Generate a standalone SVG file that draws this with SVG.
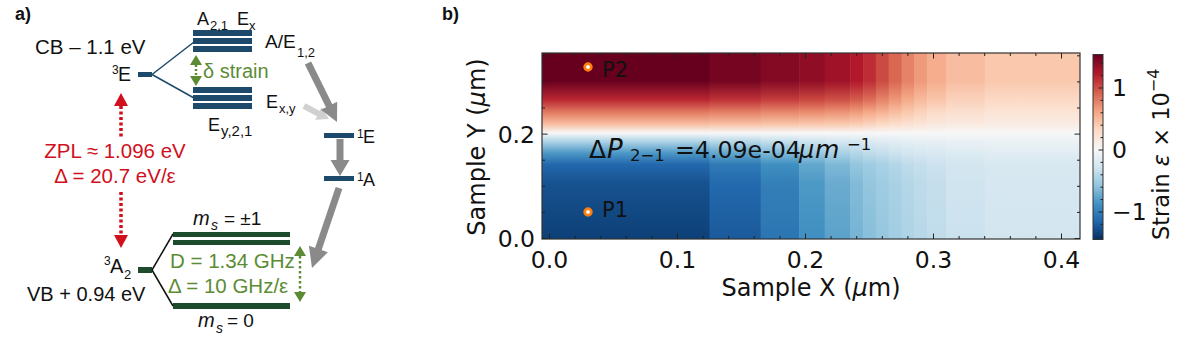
<svg xmlns="http://www.w3.org/2000/svg" width="1200" height="359" viewBox="0 0 1200 359">
<style>
.ta{font-family:"Liberation Sans",Arial,sans-serif;fill:#111}
.tb{font-family:"DejaVu Sans",sans-serif;fill:#111}
.gt{fill:#5b8c34}
.rt{fill:#d0101c}
.navy{fill:#1d4a6b}
.dgr{fill:#1c4c2b}
.gar{fill:#8a8a8a}
.tick{stroke:#222;stroke-width:1;fill:none}
</style>
<defs>
<linearGradient id="c1" x1="0" y1="0" x2="0" y2="1"><stop offset="0" stop-color="#67001f"/><stop offset=".15" stop-color="#67001f"/><stop offset=".25" stop-color="#b92631"/><stop offset=".32" stop-color="#e27c62"/><stop offset=".38" stop-color="#f7bb9d"/><stop offset=".43" stop-color="#f7f7f7"/><stop offset=".47" stop-color="#b7d8e9"/><stop offset=".54" stop-color="#4a96c5"/><stop offset=".6" stop-color="#2368ad"/><stop offset=".7" stop-color="#175290"/><stop offset="1" stop-color="#0d4077"/></linearGradient>
<linearGradient id="c2" x1="0" y1="0" x2="0" y2="1"><stop offset="0" stop-color="#750521"/><stop offset=".15" stop-color="#750521"/><stop offset=".25" stop-color="#be3137"/><stop offset=".32" stop-color="#e58267"/><stop offset=".38" stop-color="#f8bea2"/><stop offset=".43" stop-color="#f7f7f7"/><stop offset=".47" stop-color="#c0dcea"/><stop offset=".54" stop-color="#60a5cc"/><stop offset=".6" stop-color="#2f7ab5"/><stop offset=".7" stop-color="#236aae"/><stop offset="1" stop-color="#1b5a9b"/></linearGradient>
<linearGradient id="c3" x1="0" y1="0" x2="0" y2="1"><stop offset="0" stop-color="#840a24"/><stop offset=".15" stop-color="#840a24"/><stop offset=".25" stop-color="#c43c3c"/><stop offset=".32" stop-color="#e88a6d"/><stop offset=".38" stop-color="#f8c2a6"/><stop offset=".43" stop-color="#f7f7f7"/><stop offset=".47" stop-color="#cbe2ee"/><stop offset=".54" stop-color="#7cb7d6"/><stop offset=".6" stop-color="#3f8fc0"/><stop offset=".7" stop-color="#347fb8"/><stop offset="1" stop-color="#2c75b3"/></linearGradient>
<linearGradient id="c4" x1="0" y1="0" x2="0" y2="1"><stop offset="0" stop-color="#900d26"/><stop offset=".15" stop-color="#900d26"/><stop offset=".25" stop-color="#c9463f"/><stop offset=".32" stop-color="#eb8e71"/><stop offset=".38" stop-color="#f9c5aa"/><stop offset=".43" stop-color="#f7f7f7"/><stop offset=".47" stop-color="#d3e6f0"/><stop offset=".54" stop-color="#98c8e0"/><stop offset=".6" stop-color="#63a7cd"/><stop offset=".7" stop-color="#4d99c6"/><stop offset="1" stop-color="#3f8fc0"/></linearGradient>
<linearGradient id="c5" x1="0" y1="0" x2="0" y2="1"><stop offset="0" stop-color="#9f1228"/><stop offset=".15" stop-color="#9f1228"/><stop offset=".25" stop-color="#ce5045"/><stop offset=".32" stop-color="#ed9577"/><stop offset=".38" stop-color="#f9c8ad"/><stop offset=".43" stop-color="#f7f7f7"/><stop offset=".47" stop-color="#d8e8f1"/><stop offset=".54" stop-color="#a7d0e4"/><stop offset=".6" stop-color="#7eb8d7"/><stop offset=".7" stop-color="#6babd0"/><stop offset="1" stop-color="#5ba2ca"/></linearGradient>
<linearGradient id="c6" x1="0" y1="0" x2="0" y2="1"><stop offset="0" stop-color="#b2182b"/><stop offset=".15" stop-color="#b2182b"/><stop offset=".25" stop-color="#d45c4b"/><stop offset=".32" stop-color="#f19e7d"/><stop offset=".38" stop-color="#facbb2"/><stop offset=".43" stop-color="#f7f7f7"/><stop offset=".47" stop-color="#dbeaf2"/><stop offset=".54" stop-color="#b3d6e8"/><stop offset=".6" stop-color="#94c6de"/><stop offset=".7" stop-color="#82bbd8"/><stop offset="1" stop-color="#76b3d4"/></linearGradient>
<linearGradient id="c7" x1="0" y1="0" x2="0" y2="1"><stop offset="0" stop-color="#bd2d36"/><stop offset=".15" stop-color="#bd2d36"/><stop offset=".25" stop-color="#dc6d57"/><stop offset=".32" stop-color="#f5aa88"/><stop offset=".38" stop-color="#fad1bb"/><stop offset=".43" stop-color="#f7f7f7"/><stop offset=".47" stop-color="#dfebf2"/><stop offset=".54" stop-color="#bedbea"/><stop offset=".6" stop-color="#9fcce2"/><stop offset=".7" stop-color="#94c6de"/><stop offset="1" stop-color="#88bfda"/></linearGradient>
<linearGradient id="c8" x1="0" y1="0" x2="0" y2="1"><stop offset="0" stop-color="#cb4b42"/><stop offset=".15" stop-color="#cb4b42"/><stop offset=".25" stop-color="#e58267"/><stop offset=".32" stop-color="#f6b495"/><stop offset=".38" stop-color="#fcd8c3"/><stop offset=".43" stop-color="#f7f7f7"/><stop offset=".47" stop-color="#e1ecf3"/><stop offset=".54" stop-color="#c4deec"/><stop offset=".6" stop-color="#a9d1e5"/><stop offset=".7" stop-color="#9fcce2"/><stop offset="1" stop-color="#96c7df"/></linearGradient>
<linearGradient id="c9" x1="0" y1="0" x2="0" y2="1"><stop offset="0" stop-color="#d96752"/><stop offset=".15" stop-color="#d96752"/><stop offset=".25" stop-color="#ee9778"/><stop offset=".32" stop-color="#f8bfa3"/><stop offset=".38" stop-color="#fcddca"/><stop offset=".43" stop-color="#f7f7f7"/><stop offset=".47" stop-color="#e3eef3"/><stop offset=".54" stop-color="#cce2ee"/><stop offset=".6" stop-color="#b3d6e8"/><stop offset=".7" stop-color="#a9d1e5"/><stop offset="1" stop-color="#a2cde2"/></linearGradient>
<linearGradient id="c10" x1="0" y1="0" x2="0" y2="1"><stop offset="0" stop-color="#e58267"/><stop offset=".15" stop-color="#e58267"/><stop offset=".25" stop-color="#f5aa88"/><stop offset=".32" stop-color="#f9caaf"/><stop offset=".38" stop-color="#fbe0d0"/><stop offset=".43" stop-color="#f7f7f7"/><stop offset=".47" stop-color="#e5eff4"/><stop offset=".54" stop-color="#d3e6f0"/><stop offset=".6" stop-color="#bfdbea"/><stop offset=".7" stop-color="#b4d7e8"/><stop offset="1" stop-color="#aed3e6"/></linearGradient>
<linearGradient id="c11" x1="0" y1="0" x2="0" y2="1"><stop offset="0" stop-color="#ef9a7a"/><stop offset=".15" stop-color="#ef9a7a"/><stop offset=".25" stop-color="#f7b99c"/><stop offset=".32" stop-color="#fad4bd"/><stop offset=".38" stop-color="#fbe4d6"/><stop offset=".43" stop-color="#f7f7f7"/><stop offset=".47" stop-color="#e7f0f4"/><stop offset=".54" stop-color="#d6e7f1"/><stop offset=".6" stop-color="#c5deec"/><stop offset=".7" stop-color="#bedbea"/><stop offset="1" stop-color="#b7d8e9"/></linearGradient>
<linearGradient id="c12" x1="0" y1="0" x2="0" y2="1"><stop offset="0" stop-color="#f5ad8d"/><stop offset=".15" stop-color="#f5ad8d"/><stop offset=".25" stop-color="#f9c5aa"/><stop offset=".32" stop-color="#fcdcc9"/><stop offset=".38" stop-color="#fae7dc"/><stop offset=".43" stop-color="#f7f7f7"/><stop offset=".47" stop-color="#e9f0f4"/><stop offset=".54" stop-color="#d8e8f1"/><stop offset=".6" stop-color="#cde2ef"/><stop offset=".7" stop-color="#c5deec"/><stop offset="1" stop-color="#c0dcea"/></linearGradient>
<linearGradient id="c13" x1="0" y1="0" x2="0" y2="1"><stop offset="0" stop-color="#f8bda1"/><stop offset=".15" stop-color="#f8bda1"/><stop offset=".25" stop-color="#fad1bb"/><stop offset=".32" stop-color="#fbe0d0"/><stop offset=".38" stop-color="#fae9df"/><stop offset=".43" stop-color="#f7f7f7"/><stop offset=".47" stop-color="#ebf1f5"/><stop offset=".54" stop-color="#dcebf2"/><stop offset=".6" stop-color="#d4e6f0"/><stop offset=".7" stop-color="#d0e4ef"/><stop offset="1" stop-color="#cbe2ee"/></linearGradient>
<linearGradient id="c14" x1="0" y1="0" x2="0" y2="1"><stop offset="0" stop-color="#f9c8ad"/><stop offset=".15" stop-color="#f9c8ad"/><stop offset=".25" stop-color="#fcd9c5"/><stop offset=".32" stop-color="#fbe4d6"/><stop offset=".38" stop-color="#f9ebe3"/><stop offset=".43" stop-color="#f7f7f7"/><stop offset=".47" stop-color="#ecf2f5"/><stop offset=".54" stop-color="#e1ecf3"/><stop offset=".6" stop-color="#d8e8f1"/><stop offset=".7" stop-color="#d6e7f1"/><stop offset="1" stop-color="#d3e6f0"/></linearGradient>
<linearGradient id="cbar" x1="0" y1="0" x2="0" y2="1"><stop offset="0" stop-color="#67001f"/><stop offset=".103" stop-color="#b2182b"/><stop offset=".206" stop-color="#d6604d"/><stop offset=".308" stop-color="#f4a582"/><stop offset=".411" stop-color="#fddbc7"/><stop offset=".514" stop-color="#f7f7f7"/><stop offset=".611" stop-color="#d1e5f0"/><stop offset=".708" stop-color="#92c5de"/><stop offset=".806" stop-color="#4393c3"/><stop offset=".903" stop-color="#2166ac"/><stop offset="1" stop-color="#053061"/></linearGradient>
</defs>
<rect width="1200" height="359" fill="#fff"/>

<!-- Panel a -->
<text class="ta" x="15" y="20" font-size="18" font-weight="bold">a)</text>

<g id="level-3E">
<text class="ta" x="35" y="54" font-size="20.5">CB – 1.1 eV</text>
<text class="ta" x="112" y="74" font-size="12">3</text>
<text class="ta" x="118" y="81" font-size="19.5">E</text>
<rect class="navy" x="138" y="72" width="14" height="5"/>
</g>

<g id="upper-stack">
<rect class="navy" x="193" y="30" width="59" height="6"/>
<rect class="navy" x="193" y="38" width="59" height="6"/>
<rect class="navy" x="193" y="46" width="59" height="6"/>
<text class="ta" x="197" y="25" font-size="18">A</text>
<text class="ta" x="210" y="30" font-size="13">2,1</text>
<text class="ta" x="237" y="25" font-size="18">E</text>
<text class="ta" x="249" y="30" font-size="13">x</text>
<text class="ta" x="265" y="48" font-size="19">A/E</text>
<text class="ta" x="297" y="57" font-size="13">1,2</text>
</g>

<g id="lower-stack">
<rect class="navy" x="193" y="87" width="59" height="6"/>
<rect class="navy" x="193" y="95" width="59" height="6"/>
<rect class="navy" x="193" y="103" width="59" height="6"/>
<text class="ta" x="208" y="131" font-size="18">E</text>
<text class="ta" x="221" y="136" font-size="15">y,2,1</text>
<text class="ta" x="266" y="108" font-size="18">E</text>
<text class="ta" x="279" y="113" font-size="13">x,y</text>
</g>

<g id="strain-split">
<polygon points="196,55 190,65 202,65" fill="#5b8c34"/>
<line x1="196" y1="65" x2="196" y2="76" stroke="#5b8c34" stroke-width="2.5" stroke-dasharray="2 2"/>
<polygon points="196,86 190,76 202,76" fill="#5b8c34"/>
<text class="ta gt" x="203" y="78" font-size="20">δ strain</text>
</g>

<g id="level-1E">
<rect class="navy" x="324" y="133" width="30" height="5"/>
<text class="ta" x="357" y="138" font-size="12">1</text>
<text class="ta" x="363" y="143" font-size="18">E</text>
</g>

<g id="level-1A">
<rect class="navy" x="324" y="176" width="30" height="5"/>
<text class="ta" x="357" y="181" font-size="12">1</text>
<text class="ta" x="363" y="186" font-size="18">A</text>
</g>

<g id="level-3A2">
<rect class="dgr" x="138" y="267" width="14" height="6"/>
<text class="ta" x="104" y="265" font-size="12">3</text>
<text class="ta" x="110" y="273" font-size="20">A</text>
<text class="ta" x="124" y="279" font-size="13">2</text>
<text class="ta" x="27" y="301" font-size="20">VB + 0.94 eV</text>
</g>

<g id="ground-spin">
<rect class="dgr" x="173" y="232" width="117" height="5"/>
<rect class="dgr" x="173" y="240" width="117" height="5"/>
<rect class="dgr" x="173" y="303" width="117" height="6"/>
<text class="ta" x="193" y="225" font-size="20" font-style="italic">m</text>
<text class="ta" x="211" y="230" font-size="14" font-style="italic">s</text>
<text class="ta" x="224" y="225" font-size="19">= ±1</text>
<text class="ta" x="198" y="327" font-size="20" font-style="italic">m</text>
<text class="ta" x="216" y="333" font-size="14" font-style="italic">s</text>
<text class="ta" x="227" y="327" font-size="19">= 0</text>
<text class="ta gt" x="170" y="268" font-size="20.5">D = 1.34 GHz</text>
<text class="ta gt" x="168" y="293" font-size="20.5">Δ = 10 GHz/ε</text>
<polygon points="300,246 294,256 306,256" fill="#5b8c34"/>
<line x1="300" y1="256" x2="300" y2="292" stroke="#5b8c34" stroke-width="2.5" stroke-dasharray="2.5 2.5"/>
<polygon points="300,302 294,292 306,292" fill="#5b8c34"/>
</g>

<g id="zpl">
<text class="ta rt" x="115" y="158" font-size="20.5" text-anchor="middle">ZPL ≈ 1.096 eV</text>
<text class="ta rt" x="115" y="183" font-size="20.5" text-anchor="middle">Δ = 20.7 eV/ε</text>
</g>

<g id="connectors-a">
<line x1="152" y1="74.5" x2="194" y2="42" stroke="#1d4a6b" stroke-width="1.5"/>
<line x1="152" y1="74.5" x2="194" y2="98" stroke="#1d4a6b" stroke-width="1.5"/>
<line x1="152" y1="270" x2="173" y2="234" stroke="#111" stroke-width="1.5"/>
<line x1="152" y1="270" x2="173" y2="306" stroke="#111" stroke-width="1.5"/>
<polygon points="121,93 114,106 128,106" fill="#d0101c"/>
<line x1="121" y1="106" x2="121" y2="138" stroke="#d0101c" stroke-width="3.5" stroke-dasharray="3 2.5"/>
<line x1="121" y1="192" x2="121" y2="235" stroke="#d0101c" stroke-width="3.5" stroke-dasharray="3 2.5"/>
<polygon points="114,235 128,235 121,248" fill="#d0101c"/>
<line x1="304" y1="106" x2="319" y2="113.8" stroke="#d0d0d0" stroke-width="6"/>
<polygon points="329,119 315.2,119.7 321.6,107.3" fill="#d0d0d0"/>
<line x1="308" y1="63" x2="329.5" y2="106.5" stroke="#8a8a8a" stroke-width="7"/>
<polygon class="gar" points="337,122 321,109.8 337.2,101.8"/>
<line x1="340" y1="139" x2="340" y2="161" stroke="#8a8a8a" stroke-width="7"/>
<polygon class="gar" points="330.5,160 349.5,160 340,176"/>
<line x1="339" y1="188" x2="318.2" y2="249.5" stroke="#8a8a8a" stroke-width="7"/>
<polygon class="gar" points="312,268 327.9,252.2 308.9,245.8"/>
</g>

<!-- Panel b -->
<text class="ta" x="442" y="20" font-size="18" font-weight="bold">b)</text>

<g id="heatmap">
<rect x="542" y="53" width="168" height="186" fill="url(#c1)"/>
<rect x="709.5" y="53" width="51.7" height="186" fill="url(#c2)"/>
<rect x="760.7" y="53" width="38.9" height="186" fill="url(#c3)"/>
<rect x="799.1" y="53" width="26.1" height="186" fill="url(#c4)"/>
<rect x="824.7" y="53" width="26.1" height="186" fill="url(#c5)"/>
<rect x="850.3" y="53" width="13.3" height="186" fill="url(#c6)"/>
<rect x="863.1" y="53" width="13.3" height="186" fill="url(#c7)"/>
<rect x="875.9" y="53" width="13.3" height="186" fill="url(#c8)"/>
<rect x="888.7" y="53" width="13.3" height="186" fill="url(#c9)"/>
<rect x="901.5" y="53" width="13.3" height="186" fill="url(#c10)"/>
<rect x="914.3" y="53" width="13.3" height="186" fill="url(#c11)"/>
<rect x="927.1" y="53" width="19.7" height="186" fill="url(#c12)"/>
<rect x="946.3" y="53" width="38.9" height="186" fill="url(#c13)"/>
<rect x="984.7" y="53" width="95.3" height="186" fill="url(#c14)"/>
<rect x="542" y="53" width="538" height="186" fill="none" stroke="#333" stroke-width="1.2"/>
<path class="tick" d="M575.1 239v-3M600.7 239v-3M626.3 239v-3M651.9 239v-3M703.1 239v-3M728.7 239v-3M754.3 239v-3M779.9 239v-3M831.1 239v-3M856.7 239v-3M882.3 239v-3M907.9 239v-3M959.1 239v-3M984.7 239v-3M1010.3 239v-3M1035.9 239v-3M575.1 53v3M600.7 53v3M626.3 53v3M651.9 53v3M703.1 53v3M728.7 53v3M754.3 53v3M779.9 53v3M831.1 53v3M856.7 53v3M882.3 53v3M907.9 53v3M959.1 53v3M984.7 53v3M1010.3 53v3M1035.9 53v3M549.5 239v-5.5M677.5 239v-5.5M805.5 239v-5.5M933.5 239v-5.5M1061.5 239v-5.5M549.5 53v5.5M677.5 53v5.5M805.5 53v5.5M933.5 53v5.5M1061.5 53v5.5M542 212.4h3M542 186.3h3M542 160.2h3M542 108h3M542 81.9h3M542 55.8h3M1080 212.4h-3M1080 186.3h-3M1080 160.2h-3M1080 108h-3M1080 81.9h-3M1080 55.8h-3M542 238.5h5.5M542 134.1h5.5M1080 238.5h-5.5M1080 134.1h-5.5"/>
<text class="tb" font-size="23.5" text-anchor="middle" y="268"><tspan x="549.5">0.0</tspan><tspan x="677.5">0.1</tspan><tspan x="805.5">0.2</tspan><tspan x="933.5">0.3</tspan><tspan x="1061.5">0.4</tspan></text>
<text class="tb" font-size="23.5" text-anchor="end" x="535" y="142.5">0.2</text>
<text class="tb" font-size="23.5" text-anchor="end" x="535" y="247">0.0</text>
<text class="tb" font-size="24" text-anchor="middle" x="811" y="296">Sample X (<tspan font-style="italic">μ</tspan>m)</text>
<text class="tb" font-size="24" text-anchor="middle" transform="translate(485,147) rotate(-90)">Sample Y (<tspan font-style="italic">μ</tspan>m)</text>
</g>

<g id="point-P2">
<circle cx="588" cy="67" r="3.3" fill="#fff" stroke="#ff7f0e" stroke-width="2.8"/>
<text class="tb" x="602" y="77" font-size="21">P2</text>
</g>
<g id="point-P1">
<circle cx="588" cy="212" r="3.3" fill="#fff" stroke="#ff7f0e" stroke-width="2.8"/>
<text class="tb" x="602" y="217" font-size="21">P1</text>
</g>

<g id="gradient-label">
<text class="tb" x="589" y="158" font-size="25">Δ</text>
<text class="tb" x="607" y="158" font-size="26" font-style="italic">P</text>
<text class="tb" x="630" y="161" font-size="16.5">2−1</text>
<text class="tb" x="675" y="158" font-size="23.7">=4.09e-04</text>
<text class="tb" x="799" y="158" font-size="24" font-style="italic">μ</text>
<text class="tb" x="815" y="158" font-size="25" font-style="italic">m</text>
<text class="tb" x="847" y="150" font-size="16.5">−1</text>
</g>

<g id="colorbar">
<rect x="1093" y="54.5" width="10" height="185" fill="url(#cbar)" stroke="#333" stroke-width="1"/>
<path class="tick" d="M1103 63.2h-2.5M1103 75.6h-2.5M1103 100.4h-2.5M1103 112.8h-2.5M1103 125.2h-2.5M1103 137.6h-2.5M1103 162.4h-2.5M1103 174.8h-2.5M1103 187.2h-2.5M1103 199.6h-2.5M1103 224.4h-2.5M1103 236.8h-2.5M1103 88h-4.5M1103 150h-4.5M1103 212h-4.5"/>
<text class="tb" x="1112" y="95.5" font-size="23.5">1</text>
<text class="tb" x="1112" y="158" font-size="23.5">0</text>
<text class="tb" x="1112" y="220" font-size="23.5">−1</text>
<text class="tb" font-size="22.5" transform="translate(1169,240) rotate(-90)">Strain <tspan font-style="italic">ε</tspan> × 10<tspan font-size="16" dy="-10">−4</tspan></text>
</g>
</svg>
